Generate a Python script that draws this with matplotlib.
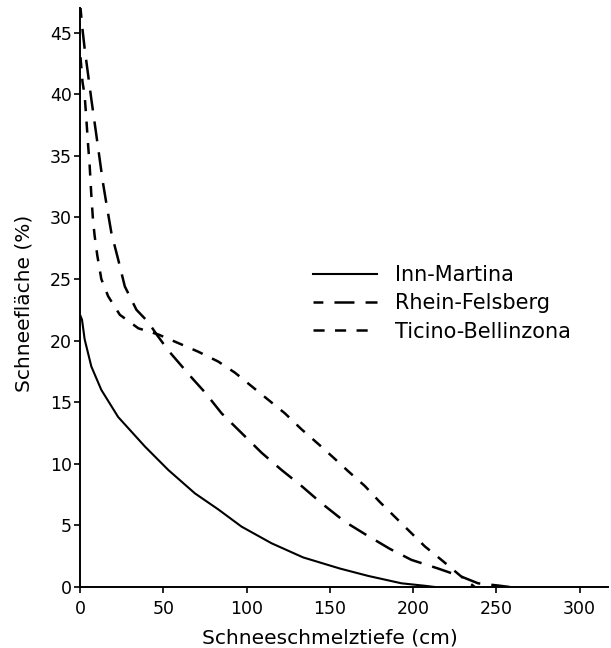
import matplotlib
matplotlib.use('Agg')
import matplotlib.pyplot as plt

# Inn-Martina (solid)
inn_x = [0.3, 1.2, 2.8, 6.8, 12.8, 22.9, 39, 53, 69, 83, 97, 115, 134, 156, 173, 193, 207, 213]
inn_y = [22, 21.7, 20.1, 17.9, 16.0, 13.8, 11.4, 9.5, 7.6, 6.3, 4.9, 3.55, 2.4, 1.5, 0.9, 0.3, 0.1, 0]

# Rhein-Felsberg (long dashes)
rhein_x = [0.3, 1.3, 2.8, 6.8, 9.8, 13.8, 16, 18.9, 22.9, 26.9, 33.9, 41, 46, 53, 60, 67, 75,
           85, 97, 109, 121, 133, 145, 159, 171, 186, 199, 215, 229, 239, 251, 258]
rhein_y = [47, 45.5, 43.7, 39.6, 36.7, 32.8, 31.0, 28.7, 26.6, 24.4, 22.5, 21.5, 20.5, 19.2,
           18.1, 17.0, 15.8, 14.1, 12.5, 10.9, 9.5, 8.2, 6.8, 5.3, 4.3, 3.1, 2.2, 1.5, 0.84,
           0.3, 0.12, 0]

# Ticino-Bellinzona (short dashes)
ticino_x = [0.3, 1.5, 2.8, 3.8, 4.8, 5.8, 6.8, 7.8, 8.8, 10.4, 12.8, 16.9, 23.9, 35, 47, 59,
            71, 83, 93, 103, 113, 123, 133, 144, 153, 161, 171, 180, 189, 198, 207, 217,
            229, 237]
ticino_y = [43, 41, 39.9, 38, 36, 34.2, 31.8, 29.8, 28.5, 26.9, 25, 23.6, 22.1, 21.0, 20.5,
            19.8, 19.1, 18.3, 17.4, 16.3, 15.2, 14.1, 12.8, 11.5, 10.4, 9.4, 8.2, 6.9, 5.7,
            4.5, 3.3, 2.2, 0.84, 0]

x_ticks = [0, 50, 100, 150, 200, 250, 300]
y_ticks = [0, 5, 10, 15, 20, 25, 30, 35, 40, 45]

plt.rcParams['font.family'] = ['DejaVu Sans']
plt.rcParams['lines.scale_dashes'] = False

fig = plt.figure(figsize=(6.11, 6.48), dpi=100)
ax = fig.add_axes([80 / 611, 61 / 648, 528 / 611, 579 / 648])

ax.plot(inn_x, inn_y, color='black', lw=1.5, label='Inn-Martina')
ax.plot(rhein_x, rhein_y, color='black', lw=1.8, linestyle=(7.3, (14.4, 8)),
        label='Rhein-Felsberg')
ax.plot(ticino_x, ticino_y, color='black', lw=1.8, linestyle=(0, (8, 7.5)),
        label='Ticino-Bellinzona')

ax.set_xlim(0, 317)
ax.set_ylim(0, 47)
ax.set_xticks(x_ticks)
ax.set_yticks(y_ticks)
ax.tick_params(labelsize=12.5, width=1.2, length=4, direction='out')
ax.tick_params(axis='x', pad=5)
ax.tick_params(axis='y', pad=2)

for s in ['top', 'right']:
    ax.spines[s].set_visible(False)
for s in ['left', 'bottom']:
    ax.spines[s].set_linewidth(1.4)

ax.set_xlabel('Schneeschmelztiefe (cm)', fontsize=14.5)
ax.xaxis.set_label_coords(0.473, -0.071)
ax.set_ylabel('Schneefläche (%)', fontsize=14.5)
ax.yaxis.set_label_coords(-0.088, 0.49)

leg = ax.legend(loc='upper left', bbox_to_anchor=(0.441, 0.556), frameon=False,
                fontsize=15, handlelength=3.08, handletextpad=0.87, borderpad=0,
                borderaxespad=0, labelspacing=0.4)

plt.savefig('out.png', dpi=100)
